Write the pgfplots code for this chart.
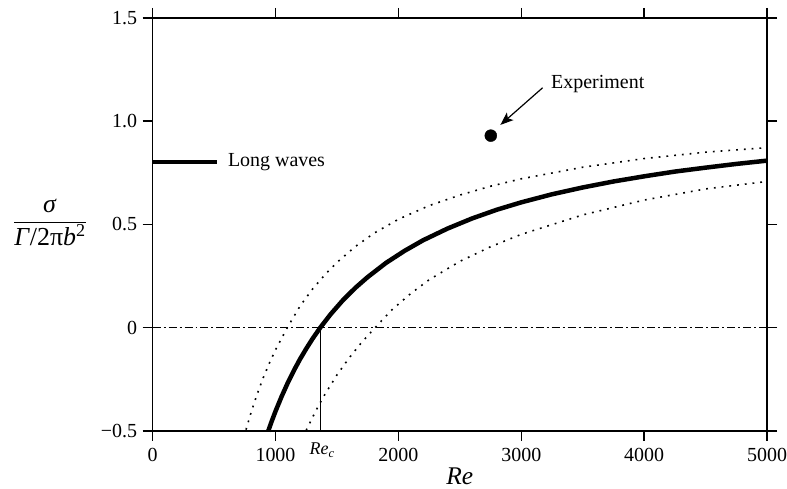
\documentclass[border=0pt]{standalone}
\usepackage{pgfplots}
\pgfplotsset{compat=1.18}
\usepackage{fontspec}
\setmainfont{Liberation Serif}
\usetikzlibrary{arrows.meta}

\newcommand\tickfont{\fontsize{20}{24}\selectfont}

\begin{document}
\begin{tikzpicture}
\path[use as bounding box] (-153pt,-58pt) rectangle (636pt,432pt);
\begin{axis}[
  at={(0pt,0pt)}, anchor=south west,
  scale only axis, width=616pt, height=414pt,
  xmin=0, xmax=5000, ymin=-0.5, ymax=1.5,
  xtick={0,1000,2000,3000,4000,5000},
  xticklabels={0,1000,2000,3000,4000,5000},
  ytick={-0.5,0,0.5,1.0,1.5},
  yticklabels={−0.5,0,0.5,1.0,1.5},
  scaled x ticks=false,
  tick align=outside,
  major tick length=10pt,
  axis line style={line width=1.5pt},
  tick style={line width=1.5pt, black},
  xticklabel style={font=\tickfont, yshift=-4pt},
  yticklabel style={font=\tickfont, xshift=-2pt},
  xlabel={\textit{Re}},
  xlabel style={font=\fontsize{25.5}{28}\selectfont, at={(axis description cs:0.5,0)}, anchor=base, yshift=-54pt},
  clip=false,
]
% thick curve: long waves
\addplot[line width=4.5pt] coordinates {
  (940,-0.502)(970,-0.452)(1000,-0.405)(1050,-0.333)(1100,-0.267)(1150,-0.207)
  (1200,-0.152)(1250,-0.102)(1300,-0.055)(1364,0)(1450,0.066)(1550,0.134)
  (1650,0.193)(1750,0.245)(1900,0.314)(2050,0.372)(2200,0.423)(2400,0.480)
  (2600,0.529)(2800,0.571)(3000,0.607)(3250,0.646)(3500,0.679)(3750,0.708)
  (4000,0.733)(4250,0.756)(4500,0.775)(4750,0.793)(5000,0.809)
};
% dotted bounds
\addplot[line width=1.6pt, dash pattern=on 1.8pt off 6pt] coordinates {
  (760,-0.494)(800,-0.413)(850,-0.323)(900,-0.243)(950,-0.172)(1000,-0.107)
  (1096,0)(1200,0.105)(1300,0.186)(1400,0.255)(1500,0.316)(1650,0.393)
  (1800,0.457)(2000,0.525)(2250,0.591)(2500,0.642)(2750,0.685)(3000,0.721)
  (3500,0.777)(4000,0.819)(4500,0.850)(5000,0.872)
};
\addplot[line width=1.6pt, dash pattern=on 1.8pt off 6pt] coordinates {
  (1250,-0.497)(1300,-0.436)(1350,-0.378)(1400,-0.325)(1500,-0.229)(1600,-0.146)
  (1700,-0.072)(1810,0)(1950,0.088)(2100,0.165)(2250,0.232)(2500,0.321)
  (2750,0.392)(3000,0.452)(3500,0.546)(4000,0.618)(4500,0.672)(5000,0.708)
};
% zero line
\addplot[line width=1.2pt, dash pattern=on 8pt off 3pt on 2pt off 3pt] coordinates {(0,0)(5000,0)};
% Re_c marker
\addplot[line width=0.8pt] coordinates {(1364,-0.5)(1364,0)};
\node[anchor=north, inner sep=0pt, font=\fontsize{18}{20}\selectfont\itshape] at (axis cs:1380,-0.5) [yshift=-12pt] {Re\textsubscript{c}};
% legend sample
\addplot[line width=4pt] coordinates {(0,0.8)(520,0.8)};
\node[anchor=west, font=\tickfont] at (axis cs:585,0.8) {Long waves};
% experiment
\addplot[only marks, mark=*, mark size=6pt] coordinates {(2752,0.930)};
\addplot[line width=1.2pt, -{Stealth[length=13pt,width=10pt,inset=3pt]}] coordinates {(3174,1.162)(2830,0.982)};
\node[anchor=west, font=\tickfont] at (axis cs:3215,1.18) {Experiment};
% y label
\node[font=\fontsize{26}{30}\selectfont] at (axis description cs:-0.167,0.505)
  {$\displaystyle\frac{\mbox{\textit{σ}}}{\mbox{\textit{Γ}/2π\textit{b}\textsuperscript{2}}}$};
\end{axis}
\end{tikzpicture}
\end{document}
